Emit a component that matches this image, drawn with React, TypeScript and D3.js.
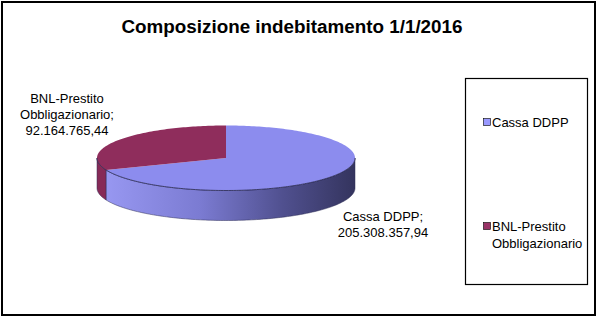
import React from "react";
import * as d3 from "d3";

const title = "Composizione indebitamento 1/1/2016";
const categories = ["Cassa DDPP", "BNL-Prestito Obbligazionario"];
const values = [205308357.94, 92164765.44];
const valueLabels = ["205.308.357,94", "92.164.765,44"];
const topColors = ["#8c8cee", "#8f2d5c"];
const legendLines = [["Cassa DDPP"], ["BNL-Prestito", "Obbligazionario"]];
const dataLabelLines = [
  ["Cassa DDPP;", "205.308.357,94"],
  ["BNL-Prestito", "Obbligazionario;", "92.164.765,44"],
];

export default function App() {
  const W = 599,
    H = 318;
  const cx = 226,
    cy = 158,
    rx = 129,
    ry = 32.5,
    depth = 30;
  const pie = d3.pie<number>().sort(null).value((d) => d)(values);
  const pt = (a: number, dy = 0): [number, number] => [
    cx + rx * Math.sin(a),
    cy - ry * Math.cos(a) + dy,
  ];
  const arcPts = (a0: number, a1: number, dy: number) => {
    const n = Math.max(2, Math.ceil(Math.abs(a1 - a0) / 0.02));
    return d3.range(n + 1).map((i) => pt(a0 + ((a1 - a0) * i) / n, dy));
  };
  const line = d3.line();
  const topPath = (a0: number, a1: number) =>
    line([[cx, cy], ...arcPts(a0, a1, 0)]) + "Z";
  const sidePath = (a0: number, a1: number) => {
    const s = Math.max(a0, Math.PI / 2);
    const e = Math.min(a1, (3 * Math.PI) / 2);
    if (s >= e) return null;
    return line([...arcPts(s, e, 0), ...arcPts(e, s, depth)]) + "Z";
  };
  const sideFills = ["url(#blueSide)", "#862a57"];
  const font = "Arial, 'Liberation Sans', sans-serif";

  // label anchor positions (centers)
  const labelPos: [number, number][] = [
    [383, 221],
    [67, 102.5],
  ];

  return (
    <svg
      width={W}
      height={H}
      style={{ position: "fixed", left: 0, top: 0, background: "#fff" }}
      fontFamily={font}
    >
      <defs>
        <linearGradient
          id="blueSide"
          gradientUnits="userSpaceOnUse"
          x1={cx - rx}
          x2={cx + rx}
          y1={0}
          y2={0}
        >
          <stop offset="0" stopColor="#9a9af4" />
          <stop offset="0.4" stopColor="#7b7bd2" />
          <stop offset="0.72" stopColor="#50508f" />
          <stop offset="1" stopColor="#34345e" />
        </linearGradient>
      </defs>
      <rect x={0} y={0} width={W} height={H} fill="#fff" />
      <rect x={2} y={2} width={593} height={313} fill="none" stroke="#000" strokeWidth={2} />
      <text
        x={292}
        y={33}
        textAnchor="middle"
        fontSize={18}
        fontWeight="bold"
        textLength={341}
        lengthAdjust="spacingAndGlyphs"
      >
        {title}
      </text>

      {pie.map((d, i) => {
        const p = sidePath(d.startAngle, d.endAngle);
        return p ? (
          <path key={"s" + i} d={p} fill={sideFills[i]} stroke="#2c2c55" strokeWidth={0.5} />
        ) : null;
      })}
      {pie.map((d, i) => (
        <path key={"t" + i} d={topPath(d.startAngle, d.endAngle)} fill={topColors[i]} />
      ))}
      <path
        d={line(arcPts(Math.PI / 2, (3 * Math.PI) / 2, 0)) || ""}
        fill="none"
        stroke="#2a2a52"
        strokeWidth={0.8}
      />

      {dataLabelLines.map((lines, i) => (
        <text key={"l" + i} textAnchor="middle" fontSize={13} fill="#000">
          {lines.map((t, j) => (
            <tspan key={j} x={labelPos[i][0]} y={labelPos[i][1] + j * 16}>
              {t}
            </tspan>
          ))}
        </text>
      ))}

      <rect x={465.5} y={78.5} width={122} height={206} fill="none" stroke="#000" strokeWidth={1.2} />
      {categories.map((c, i) => {
        const y0 = i === 0 ? 127 : 231;
        return (
          <g key={c}>
            <rect
              x={483.5}
              y={y0 - 8.5}
              width={7}
              height={7}
              fill={topColors[i] === "#8c8cee" ? "#9999ff" : "#993366"}
              stroke="#000"
              strokeWidth={0.6}
            />
            <text fontSize={13} fill="#000">
              {legendLines[i].map((t, j) => (
                <tspan key={j} x={492} y={y0 + j * 17}>
                  {t}
                </tspan>
              ))}
            </text>
          </g>
        );
      })}
    </svg>
  );
}
